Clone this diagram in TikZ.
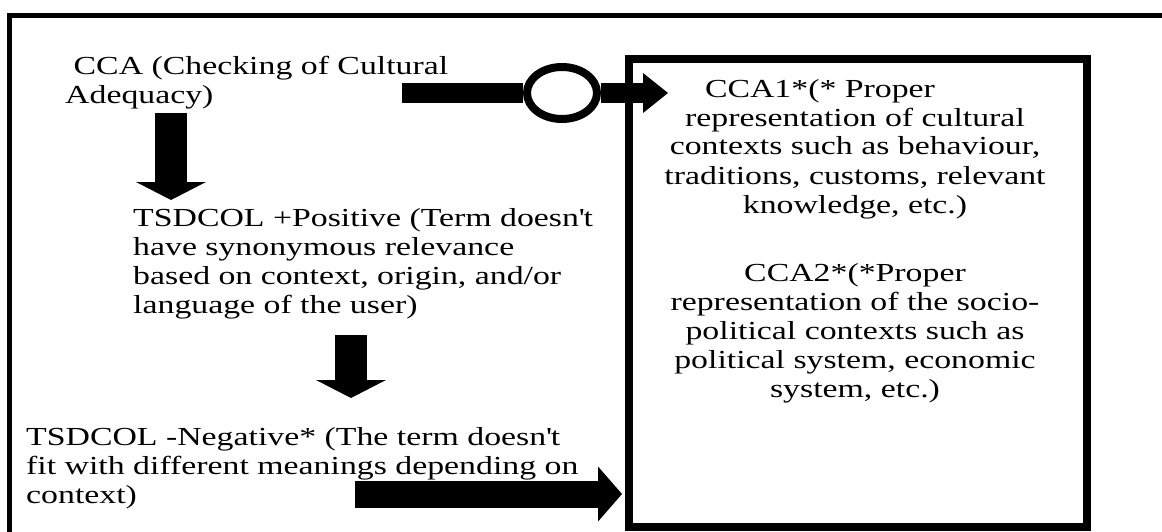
\documentclass[tikz,border=0pt]{standalone}
\usepackage{fontspec}
\newfontfamily\diagfont{Liberation Serif}[FakeStretch=1.3]
\usetikzlibrary{arrows.meta,shapes.geometric}

\tikzset{
  txt/.style={font=\diagfont\fontsize{26}{29}\selectfont, inner sep=0pt},
  ring/.style={ellipse, draw, line width=8pt, fill=white, inner sep=0pt, minimum width=70pt, minimum height=52pt},
  frame/.style={draw, line width=8pt, inner sep=0pt, minimum width=458pt, minimum height=468pt},
}

\begin{document}
\begin{tikzpicture}[x=1pt, y=-1pt]
	% Frame and box:
	\useasboundingbox (0,0) rectangle (1162,532);
	\clip (0,0) rectangle (1162,532);
	\draw[line width=4.5pt] (9.5,560) |- (1190,15.5);
	\node[frame] (box) at (858,293) {};
	% Texts (base = last line):
	\node[txt, align=left, anchor=base west] (cca) at (65,104) {\hspace*{8.5pt}CCA (Checking of Cultural\\Adequacy)};
	\node[txt, align=left, anchor=base west] (pos) at (133,313) {TSDCOL +Positive (Term doesn\textquotesingle t\\have synonymous relevance\\based on context, origin, and/or\\language of the user)};
	\node[txt, align=left, anchor=base west] (neg) at (26,503) {TSDCOL -Negative* (The term doesn\textquotesingle t\\fit with different meanings depending on\\context)};
	\node[txt, align=center, anchor=base] (cca1) at (855,213) {CCA1*(* Proper\hspace*{70pt}\\representation of cultural\\contexts such as behaviour,\\traditions, customs, relevant\\knowledge, etc.)};
	\node[txt, align=center, anchor=base] (cca2) at (855,397) {CCA2*(*Proper\\representation of the socio-\\political contexts such as\\political system, economic\\system, etc.)};
	% Arrows:
	\node[ring] (check) at (562,93) {};
	\coordinate (t1) at (402,93);
	\coordinate (t2) at (668,93);
	\draw[line width=20pt] (t1) -- (check.west);
	\draw[line width=20pt, -{Triangle[length=25pt, width=40pt, line width=0pt]}] (check.east) -- (t2);
	\coordinate (d1) at (171,113);
	\coordinate (d2) at (171,200);
	\draw[line width=32pt, -{Triangle[length=18pt, width=70pt, line width=0pt]}] (d1) -- (d2);
	\coordinate (e1) at (351,335);
	\coordinate (e2) at (351,398);
	\draw[line width=32pt, -{Triangle[length=18pt, width=70pt, line width=0pt]}] (e1) -- (e2);
	\coordinate (b1) at (355,494);
	\coordinate (b2) at (622,494);
	\draw[line width=27pt, -{Triangle[length=24pt, width=55pt, line width=0pt]}] (b1) -- (b2);
\end{tikzpicture}
\end{document}
